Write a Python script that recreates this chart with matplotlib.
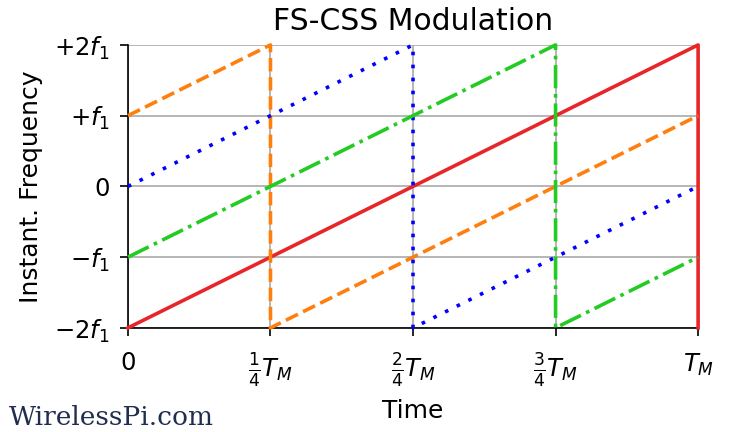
import numpy as np
import matplotlib.pyplot as plt

# chirp segments (time in units of T_M, freq in units of f1)
red_t = [0, 1, 1]
red_f = [-2, 2, -2]
orange_t = [0, 0.25, 0.25, 1]
orange_f = [1, 2, -2, 1]
blue_t = [0, 0.5, 0.5, 1]
blue_f = [0, 2, -2, 0]
green_t = [0, 0.75, 0.75, 1]
green_f = [-1, 2, -2, -1]

xticks = [0, 0.25, 0.5, 0.75, 1]
xlabels = ['$0$', r'$\frac{1}{4}T_M$', r'$\frac{2}{4}T_M$', r'$\frac{3}{4}T_M$', '$T_M$']
yticks = [-2, -1, 0, 1, 2]
ylabels = ['$-2f_1$', '$-f_1$', '$0$', '$+f_1$', '$+2f_1$']

fig = plt.figure(figsize=(7.31, 4.32), dpi=100)
ax = fig.add_axes([0.175, 0.241, 0.780, 0.655])

lw = 2.6
ax.plot(red_t, red_f, color='#e8262a', lw=lw, clip_on=False, zorder=3)
ax.plot(orange_t, orange_f, color='#ff7f0e', lw=lw, ls='--', clip_on=False, zorder=3)
ax.plot(blue_t, blue_f, color='blue', lw=lw, ls=(0, (1, 2.6)), clip_on=False, zorder=3)
ax.plot(green_t, green_f, color='#22cc22', lw=lw, ls='-.', clip_on=False, zorder=3)

ax.set_xlim(0, 1)
ax.set_ylim(-2, 2)
ax.set_xticks(xticks)
ax.set_xticklabels(xlabels)
ax.set_yticks(yticks)
ax.set_yticklabels(ylabels)
ax.tick_params(labelsize=17.5, length=6, width=1.2)
ax.tick_params(axis='x', pad=11)
ax.tick_params(axis='y', pad=7)
ax.grid(True, color='#b0b0b0', lw=1.3)
ax.spines['top'].set_visible(False)
ax.spines['right'].set_visible(False)
ax.spines['left'].set_linewidth(1.2)
ax.spines['bottom'].set_linewidth(1.2)

ax.set_title('FS-CSS Modulation', fontsize=21.5, pad=11)
ax.set_xlabel('Time', fontsize=18, labelpad=7)
ax.set_ylabel('Instant. Frequency', fontsize=18, labelpad=8)

fig.text(0.012, 0.004, 'WirelessPi.com', family='DejaVu Serif', fontsize=19,
         color='#1f2d4f', va='bottom')

fig.savefig('out.png', dpi=100)
